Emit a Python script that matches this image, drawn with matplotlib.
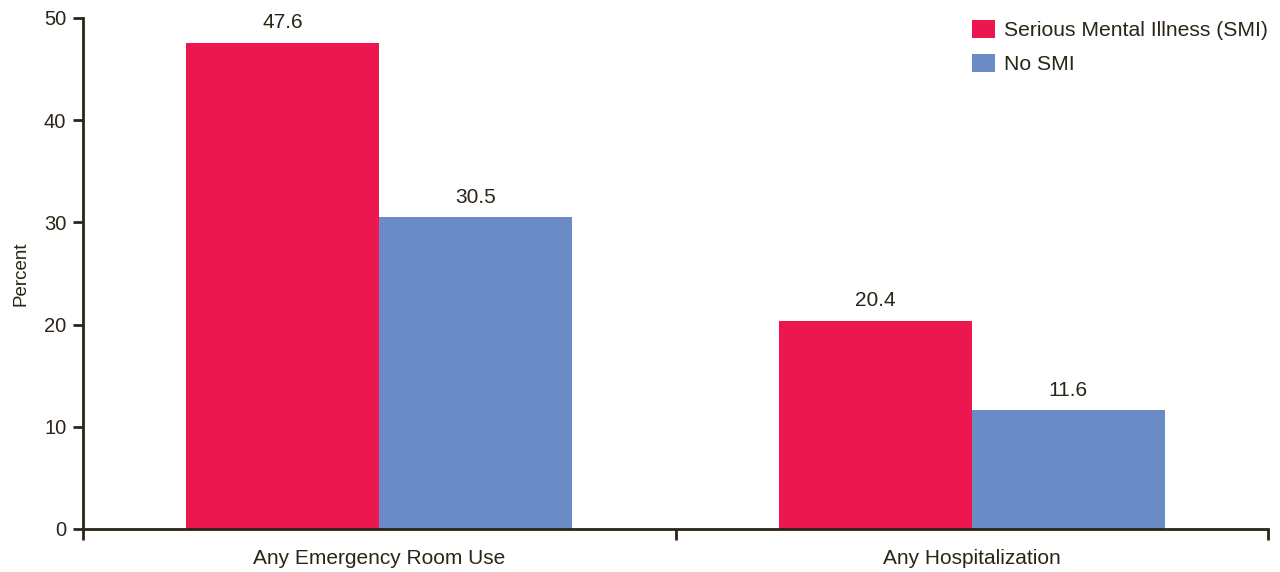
import matplotlib
matplotlib.use("Agg")
import matplotlib.pyplot as plt
import numpy as np

categories = ["Any Emergency Room Use", "Any Hospitalization"]
series_names = ["Serious Mental Illness (SMI)", "No SMI"]
smi_values = [47.6, 20.4]
no_smi_values = [30.5, 11.6]
y_ticks = [0, 10, 20, 30, 40, 50]

text_color = "#2b2418"
colors = ["#ed174f", "#6a8bc5"]

plt.rcParams['font.family'] = ['Liberation Sans', 'DejaVu Sans']

fig = plt.figure(figsize=(12.8, 5.72), dpi=100)
ax = fig.add_axes([83/1280, 1-529/572, (1268-83)/1280, (529-18)/572])

x = np.arange(len(categories))
w = 0.326
b1 = ax.bar(x - w/2, smi_values, w, color=colors[0], label=series_names[0])
b2 = ax.bar(x + w/2, no_smi_values, w, color=colors[1], label=series_names[1])

for bars in (b1, b2):
    for r in bars:
        ax.annotate(f"{r.get_height():.1f}", (r.get_x() + r.get_width()/2, r.get_height()),
                    xytext=(0, 7.5), textcoords="offset points", ha="center", va="bottom",
                    fontsize=15, color=text_color)

ax.set_xlim(-0.5, 1.5)
ax.set_ylim(0, 50)
ax.set_yticks(y_ticks)
ax.tick_params(axis='y', direction='out', length=7, width=2, colors=text_color,
               labelsize=14.5, labelcolor=text_color, pad=5)
ax.set_xticks([-0.5, 0.5, 1.5])
ax.set_xticklabels([])
ax.set_xticks(x, minor=True)
ax.set_xticklabels(categories, minor=True)
ax.tick_params(axis='x', which='major', direction='out', length=8, width=2, colors=text_color)
ax.tick_params(axis='x', which='minor', length=0, labelsize=15, labelcolor=text_color, pad=14.5)

for s in ["top", "right"]:
    ax.spines[s].set_visible(False)
for s in ["left", "bottom"]:
    ax.spines[s].set_color(text_color)
    ax.spines[s].set_linewidth(2)

ax.set_ylabel("Percent", fontsize=13.5, color=text_color)
ax.yaxis.set_label_coords((30 - 83) / 1185, 0.5)

leg = ax.legend(loc="upper right", bbox_to_anchor=(1268/1280, 1-20/572),
                bbox_transform=fig.transFigure, frameon=False, fontsize=15.2,
                borderpad=0, borderaxespad=0,
                handlelength=1.05, handleheight=0.92, handletextpad=0.45, labelspacing=0.66,
                labelcolor=text_color)

fig.savefig("out.png", dpi=100)
